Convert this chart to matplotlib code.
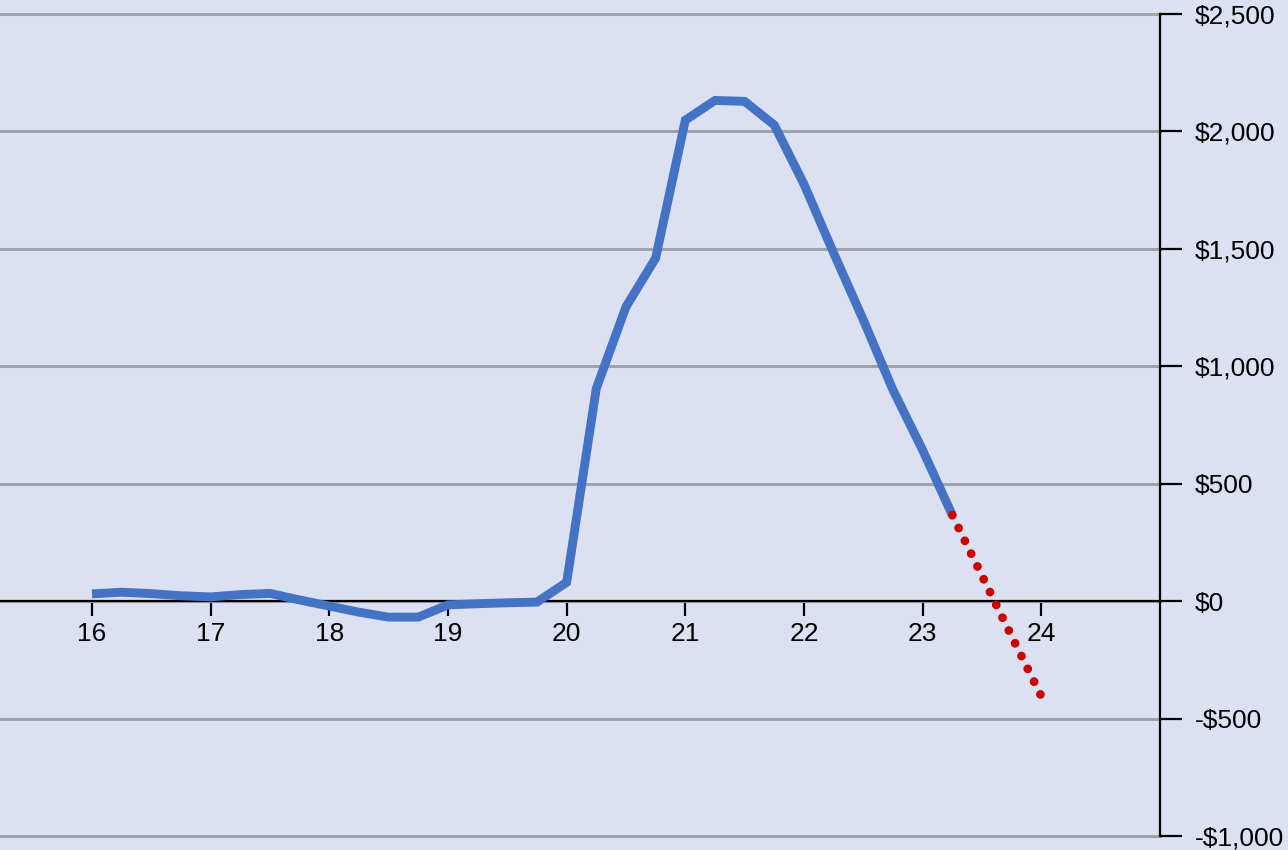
import matplotlib.pyplot as plt
from matplotlib.ticker import FuncFormatter

# --- data ---
x_blue = [16.0, 16.25, 16.5, 16.75, 17.0, 17.25, 17.5, 17.75, 18.0, 18.25, 18.5, 18.75,
          19.0, 19.25, 19.5, 19.75, 20.0, 20.25, 20.5, 20.75, 21.0, 21.25, 21.5, 21.75,
          22.0, 22.25, 22.5, 22.75, 23.0, 23.25]
y_blue = [31, 38, 32, 23, 18, 28, 33, 5, -21, -47, -68, -68,
          -16, -11, -7, -4, 80, 906, 1253, 1461, 2048, 2132, 2128, 2027,
          1775, 1482, 1197, 899, 643, 366]

x_red = [23.25, 23.5, 23.75, 24.0]
y_red = [366, 108, -150, -405]

x_ticks = [16, 17, 18, 19, 20, 21, 22, 23, 24]
y_ticks = [-1000, -500, 0, 500, 1000, 1500, 2000, 2500]

bg = '#dbe1f2'

plt.rcParams['font.family'] = ['Liberation Sans', 'DejaVu Sans']

fig = plt.figure(figsize=(12.88, 8.5), dpi=100, facecolor=bg)
ax = fig.add_axes([0.0, 14 / 850, 1160 / 1288, 822 / 850])
ax.set_facecolor(bg)

ax.plot(x_blue, y_blue, color='#4472c4', lw=6.4, solid_joinstyle='miter',
        solid_capstyle='butt', zorder=3)
# dotted projection
ax.plot(x_red, y_red, color='#cc0000', lw=6.3, linestyle=(0, (0.01, 1.62)),
        dash_capstyle='round', zorder=4)

ax.set_xlim(15.225, 25)
ax.set_ylim(-1000, 2500)

# axes: x axis through zero, y axis on the right
ax.spines['left'].set_visible(False)
ax.spines['top'].set_visible(False)
ax.spines['bottom'].set_position(('data', 0))
ax.spines['bottom'].set_linewidth(1.6)
ax.spines['right'].set_linewidth(1.6)
ax.spines['bottom'].set_zorder(2.5)

ax.set_xticks(x_ticks)
ax.set_yticks(y_ticks)
ax.yaxis.tick_right()
ax.yaxis.set_major_formatter(FuncFormatter(
    lambda v, p: ('-$' if v < 0 else '$') + f'{abs(int(v)):,}'))

ax.tick_params(axis='x', direction='out', length=11, width=1.6, pad=4,
               labelsize=19, colors='black')
ax.tick_params(axis='y', direction='out', length=16, width=1.6, pad=9,
               labelsize=19, colors='black')

ax.yaxis.grid(True, color='#a0a3a8', lw=2.2, zorder=1)
ax.set_axisbelow(True)
for gl in ax.get_ygridlines():
    gl.set_clip_on(False)

fig.savefig('out.png', dpi=100, facecolor=bg)
